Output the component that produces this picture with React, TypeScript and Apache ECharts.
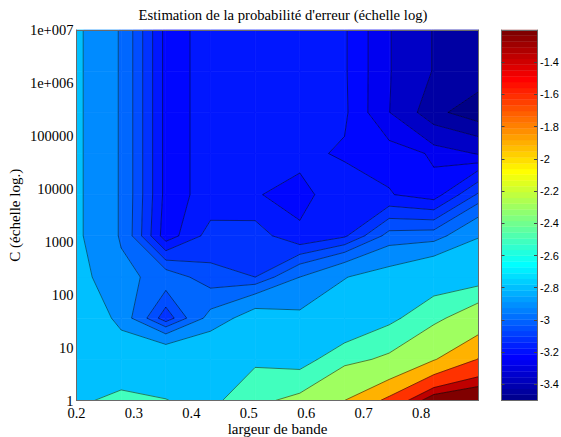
import React, { useEffect, useRef } from "react";
import * as echarts from "echarts";

// Sampling grid of the surface
const widths = [0.2, 0.2778, 0.3556, 0.4333, 0.5111, 0.5889, 0.6667, 0.7444, 0.8222, 0.9];
const costs = [1, 6, 36, 215, 1292, 7743, 46416, 278256, 1668101, 10000000];

// log10 error estimate: one row per C (from C = 1 up to C = 1e7), one value per width
const row0 = [-2.52, -2.445, -2.485, -2.548, -2.334, -2.215, -1.89, -1.53, -1.08, -1.0];
const row1 = [-2.55, -2.62, -2.61, -2.595, -2.528, -2.58, -2.353, -2.234, -1.91, -1.59];
const row2 = [-2.546, -2.845, -3.08, -2.866, -2.7, -2.75, -2.697, -2.54, -2.35, -2.09];
const row3 = [-2.728, -2.876, -2.932, -3.022, -3.04, -2.9, -2.785, -2.72, -2.61, -2.6];
const row4 = [-2.757, -2.91, -3.195, -3.074, -3.066, -3.154, -3.11, -2.955, -2.945, -2.79];
const row5 = [-2.757, -2.91, -3.18, -3.143, -3.158, -3.17, -3.14, -3.156, -3.19, -3.03];
const row6 = [-2.757, -2.91, -3.18, -3.143, -3.14, -3.151, -3.165, -3.18, -3.205, -3.25];
const row7 = [-2.757, -2.91, -3.18, -3.143, -3.14, -3.14, -3.153, -3.243, -3.397, -3.47];
const row8 = [-2.757, -2.91, -3.18, -3.143, -3.14, -3.14, -3.155, -3.24, -3.345, -3.37];
const row9 = [-2.757, -2.91, -3.18, -3.143, -3.14, -3.14, -3.155, -3.24, -3.345, -3.38];
const surface = [row0, row1, row2, row3, row4, row5, row6, row7, row8, row9];

// Contour levels
const levels = [-3.48, -3.42, -3.34, -3.245, -3.2, -3.16, -3.1, -3.04, -2.98, -2.9, -2.78, -2.49, -2.28, -1.89, -1.6, -1.34, -1.2];

const xTicks = [0.2, 0.3, 0.4, 0.5, 0.6, 0.7, 0.8];
const barTicks = [-1.4, -1.6, -1.8, -2, -2.2, -2.4, -2.6, -2.8, -3, -3.2, -3.4];
const barMin = -3.5;
const barMax = -1.2;
const barSteps = 64;

const SERIF = "'Liberation Serif', serif";
const SANS = "'Liberation Sans', sans-serif";
const FRAME = "#6a6a6a";

function jet(t: number): string {
  const clip = (v: number) => Math.round(255 * Math.max(0, Math.min(1, v)));
  const r = clip(1.5 - Math.abs(4 * t - 3));
  const g = clip(1.5 - Math.abs(4 * t - 2));
  const b = clip(1.5 - Math.abs(4 * t - 1));
  return `rgb(${r},${g},${b})`;
}
const levelColor = (v: number) => jet((v - barMin) / (barMax - barMin));

type P = { x: number; y: number; v: number };

function clip(poly: P[], level: number, keepAbove: boolean): P[] {
  const inside = (p: P) => (keepAbove ? p.v >= level : p.v <= level);
  const out: P[] = [];
  for (let i = 0; i < poly.length; i++) {
    const a = poly[i];
    const b = poly[(i + 1) % poly.length];
    if (inside(a)) out.push(a);
    if (inside(a) !== inside(b)) {
      const k = (level - a.v) / (b.v - a.v);
      out.push({ x: a.x + k * (b.x - a.x), y: a.y + k * (b.y - a.y), v: level });
    }
  }
  return out;
}

function corners(api: any): P[] {
  const c = api.value(2);
  const r = api.value(3);
  const at = (ci: number, ri: number): P => {
    const pt = api.coord([widths[ci], costs[ri]]);
    return { x: pt[0], y: pt[1], v: surface[ri][ci] };
  };
  return [at(c, r), at(c + 1, r), at(c + 1, r + 1), at(c, r + 1)];
}

function renderBands(_: any, api: any) {
  const quad = corners(api);
  const children: any[] = [];
  levels.forEach((lo, i) => {
    let poly = clip(quad, lo, true);
    if (i < levels.length - 1) poly = clip(poly, levels[i + 1], false);
    if (poly.length < 3) return;
    const color = levelColor(lo);
    children.push({
      type: "polygon",
      shape: { points: poly.map((p) => [p.x, p.y]) },
      style: { fill: color, stroke: color, lineWidth: 0.7 },
    });
  });
  return { type: "group", children };
}

function renderLines(_: any, api: any) {
  const q = corners(api);
  const children: any[] = [];
  const centre = (q[0].v + q[1].v + q[2].v + q[3].v) / 4;
  levels.forEach((lv) => {
    const pts: number[][] = [];
    for (let i = 0; i < 4; i++) {
      const a = q[i];
      const b = q[(i + 1) % 4];
      if (a.v < lv !== b.v < lv) {
        const k = (lv - a.v) / (b.v - a.v);
        pts.push([a.x + k * (b.x - a.x), a.y + k * (b.y - a.y)]);
      }
    }
    const seg = (m: number[], n: number[]) =>
      children.push({
        type: "line",
        shape: { x1: m[0], y1: m[1], x2: n[0], y2: n[1] },
        style: { stroke: "rgba(0,0,0,0.62)", lineWidth: 0.8 },
      });
    if (pts.length === 2) seg(pts[0], pts[1]);
    else if (pts.length === 4) {
      if (q[0].v >= lv === centre >= lv) {
        seg(pts[0], pts[1]);
        seg(pts[2], pts[3]);
      } else {
        seg(pts[3], pts[0]);
        seg(pts[1], pts[2]);
      }
    }
  });
  return { type: "group", children };
}

function renderBar(_: any, api: any) {
  const lo = api.value(1);
  const hi = lo + (barMax - barMin) / barSteps;
  const a = api.coord([0, lo]);
  const b = api.coord([1, hi]);
  const color = jet(api.value(2));
  return {
    type: "rect",
    shape: { x: a[0], y: b[1], width: b[0] - a[0], height: a[1] - b[1] },
    style: { fill: color, stroke: color, lineWidth: 0.4 },
  };
}

function logLabel(v: number): string {
  const e = Math.round(Math.log10(v));
  return e >= 6 ? `1e+00${e}` : String(Math.pow(10, e));
}

export default function App() {
  const ref = useRef<HTMLDivElement>(null);
  useEffect(() => {
    const chart = echarts.init(ref.current!, undefined, { renderer: "svg" });
    const cells: number[][] = [];
    for (let r = 0; r < costs.length - 1; r++) {
      for (let c = 0; c < widths.length - 1; c++) cells.push([widths[c], costs[r], c, r]);
    }
    const barCells: number[][] = [];
    for (let i = 0; i < barSteps; i++) {
      barCells.push([0.5, barMin + (i * (barMax - barMin)) / barSteps, (i + 1) / barSteps]);
    }
    const line = { show: true, onZero: false, lineStyle: { color: FRAME, width: 1 } };
    const blankX = (gridIndex: number, position: string, min: number, max: number) => ({
      type: "value", gridIndex, position, min, max, z: 6,
      axisLine: line, axisTick: { show: false }, axisLabel: { show: false }, splitLine: { show: false },
    });
    chart.setOption({
      animation: false,
      backgroundColor: "#ffffff",
      title: {
        text: "Estimation de la probabilité d'erreur (échelle log)",
        left: 278, top: 2, textAlign: "center",
        textStyle: { fontFamily: SERIF, fontSize: 14.7, fontWeight: "normal", color: "#000" },
      },
      grid: [
        { left: 76.5, top: 30, width: 402, height: 370.5, outerBoundsMode: "none" },
        { left: 501.5, top: 30, width: 35.5, height: 370.5, outerBoundsMode: "none" },
      ],
      xAxis: [
        {
          type: "value", gridIndex: 0, position: "bottom", min: 0.2, max: 0.9, interval: 0.1, z: 6,
          name: "largeur de bande", nameLocation: "middle", nameGap: 21, nameMoveOverlap: false,
          nameTextStyle: { fontFamily: SERIF, fontSize: 15, color: "#000" },
          axisLine: line, axisTick: { show: false }, splitLine: { show: false },
          axisLabel: {
            margin: 6, lineHeight: 12, fontFamily: SERIF, fontSize: 14.5, color: "#000",
            customValues: xTicks, formatter: (v: number) => String(v),
          },
        },
        blankX(0, "top", 0.2, 0.9),
        blankX(1, "bottom", 0, 1),
        blankX(1, "top", 0, 1),
      ],
      yAxis: [
        {
          type: "log", gridIndex: 0, position: "left", logBase: 10, min: 1, max: 10000000, splitNumber: 7, z: 6,
          name: "C (échelle log.)", nameLocation: "middle", nameGap: 54, nameMoveOverlap: false,
          nameTextStyle: { fontFamily: SERIF, fontSize: 15, color: "#000" },
          axisLine: line, axisTick: { show: false }, splitLine: { show: false }, minorTick: { show: false },
          axisLabel: { margin: 3, lineHeight: 11, fontFamily: SERIF, fontSize: 14.5, color: "#000", formatter: logLabel },
        },
        {
          type: "log", gridIndex: 0, position: "right", logBase: 10, min: 1, max: 10000000, z: 6,
          axisLine: line, axisTick: { show: false }, axisLabel: { show: false }, splitLine: { show: false },
        },
        {
          type: "value", gridIndex: 1, position: "right", min: barMin, max: barMax, z: 6,
          axisLine: line, splitLine: { show: false },
          axisTick: { show: true, inside: true, length: 3, customValues: barTicks, lineStyle: { color: "#444" } },
          axisLabel: {
            margin: 3, fontFamily: SANS, fontSize: 11, color: "#000",
            customValues: barTicks, formatter: (v: number) => String(v),
          },
        },
        {
          type: "value", gridIndex: 1, position: "left", min: barMin, max: barMax, z: 6,
          axisLine: line, splitLine: { show: false }, axisLabel: { show: false },
          axisTick: { show: true, inside: true, length: 3, customValues: barTicks, lineStyle: { color: "#444" } },
        },
      ],
      series: [
        { type: "custom", xAxisIndex: 0, yAxisIndex: 0, z: 2, silent: true, renderItem: renderBands, data: cells },
        { type: "custom", xAxisIndex: 0, yAxisIndex: 0, z: 3, silent: true, renderItem: renderLines, data: cells },
        { type: "custom", xAxisIndex: 2, yAxisIndex: 2, z: 2, silent: true, renderItem: renderBar, data: barCells },
      ],
    });
    return () => chart.dispose();
  }, []);
  return <div ref={ref} style={{ position: "absolute", left: 0, top: 0, width: 561, height: 437 }} />;
}
